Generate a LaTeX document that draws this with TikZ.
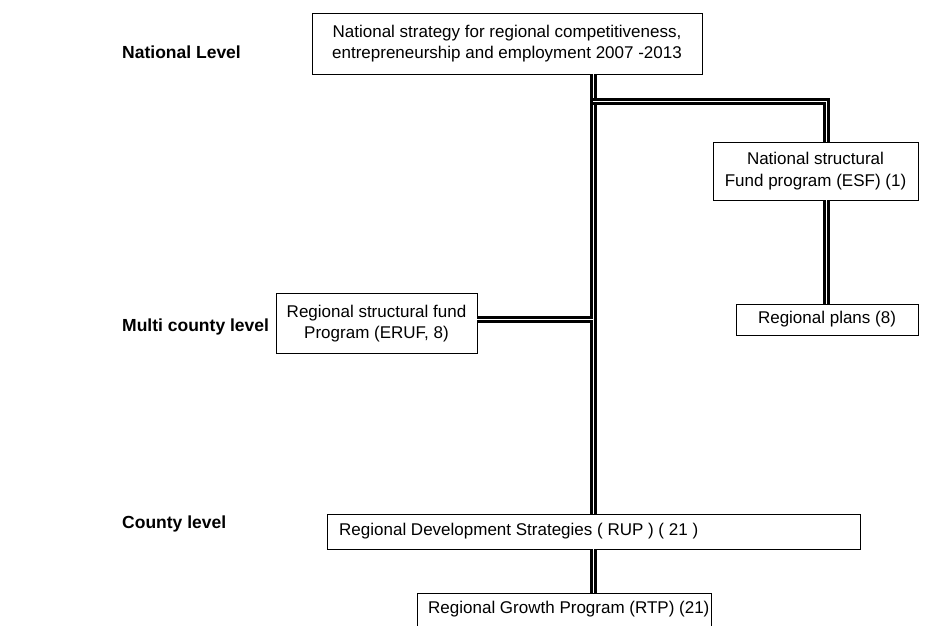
\documentclass[tikz,border=0pt]{standalone}
\usepackage{fontspec}
\setmainfont{Liberation Sans}
\begin{document}
\begin{tikzpicture}[x=1pt,y=-1pt,
  box/.style={draw, line width=0.9pt, inner sep=0pt, align=center, fill=white,
    font=\fontsize{17}{21.5}\selectfont},
  lbox/.style={draw, line width=0.9pt, fill=white, anchor=west, inner sep=0pt},
  ltext/.style={anchor=west, inner sep=0pt, font=\fontsize{17}{21.5}\selectfont},
  lvl/.style={anchor=west, inner sep=0pt, font=\fontsize{17.5}{22}\selectfont\bfseries},
  conn/.style={draw, line width=3.1pt, double=white, double distance=0.8pt, line join=miter}]
\useasboundingbox (0,0) rectangle (940,625);
% nodes
\node[box, minimum width=390pt, minimum height=61pt] (top) at (507,43.5)
  {National strategy for regional competitiveness,\\entrepreneurship and employment 2007 -2013};
\node[box, minimum width=205pt, minimum height=58pt] (esf) at (815.5,171)
  {National structural\\Fund program (ESF) (1)};
\node[box, minimum width=182pt, minimum height=31pt] (plans) at (827,319.5)
  {Regional plans (8)};
\node[box, minimum width=201pt, minimum height=60pt] (eruf) at (376.5,323.5)
  {Regional structural fund\\Program (ERUF, 8)};
\node[lbox, minimum width=533pt, minimum height=35pt] (rup) at (327,531.5) {};
\node[ltext] (ruptext) at (339,531.5) {Regional Development Strategies ( RUP ) ( 21 )};
\node[lbox, minimum width=294pt, minimum height=36pt] (rtp) at (417,611) {};
\node[ltext] (rtptext) at (428,609) {Regional Growth Program (RTP) (21)};
% level labels
\node[lvl] (l1) at (122,52) {National Level};
\node[lvl] (l2) at (122,327) {Multi county level};
\node[lvl] (l3) at (122,524) {County level};
% junctions
\coordinate (j1) at (593,101);
\coordinate (j2) at (826,101);
\coordinate (j3) at (593,319);
% connectors
\draw[conn] (j1 |- top.south) -- (j1 |- rup.north);
\draw[conn] (j1) -- (j2) -- (j2 |- esf.north);
\draw[conn] (j2 |- esf.south) -- (j2 |- plans.north);
\draw[conn] (j3 -| eruf.east) -- (j3);
\draw[conn] (j1 |- rup.south) -- (j1 |- rtp.north);
\end{tikzpicture}
\end{document}
